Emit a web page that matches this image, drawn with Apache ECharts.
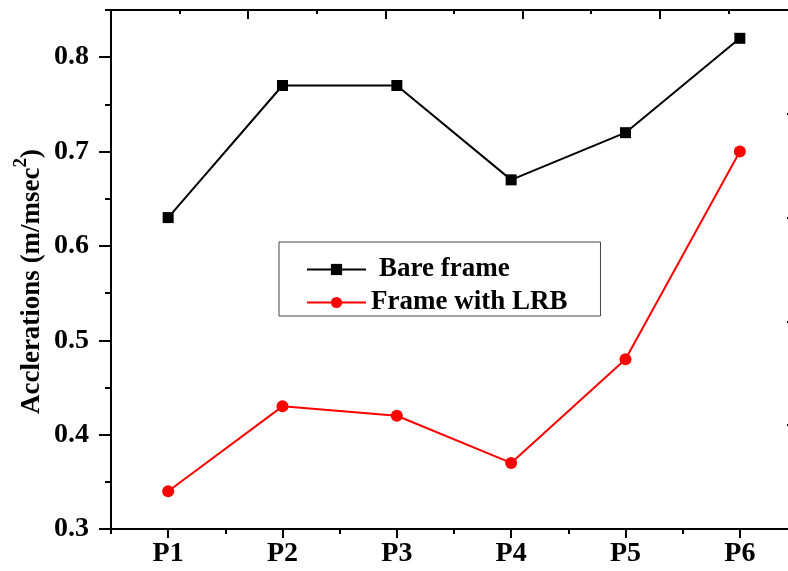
<!DOCTYPE html>
<html>
<head>
<meta charset="utf-8">
<script src="https://cdn.jsdelivr.net/npm/echarts@6/dist/echarts.min.js"></script>
<style>
  html, body { margin: 0; padding: 0; background: #ffffff; }
  #chart { width: 788px; height: 571px; }
</style>
</head>
<body>
<div id="chart"></div>
<script>
// Acceleration per point, bare frame vs. frame with lead rubber bearings
const categories = ['P1', 'P2', 'P3', 'P4', 'P5', 'P6'];
const bareFrame = [0.63, 0.77, 0.77, 0.67, 0.72, 0.82];
const frameWithLRB = [0.34, 0.43, 0.42, 0.37, 0.48, 0.70];
const seriesNames = ['Bare frame', 'Frame with LRB'];
const yTickValues = [0.3, 0.4, 0.5, 0.6, 0.7, 0.8];
const yRange = [0.3, 0.85];

const FONT = "'Liberation Serif', 'Times New Roman', serif";
const AXIS_W = 2;

const chart = echarts.init(document.getElementById('chart'), null, { renderer: 'canvas' });

const hidden = { show: false };

chart.setOption({
  backgroundColor: '#ffffff',
  animation: false,
  // plot frame runs a little past the right edge of the canvas
  grid: { left: 111, top: 10, width: 686, height: 519, containLabel: false, outerBoundsMode: 'none' },
  legend: {
    orient: 'vertical',
    left: 279,
    top: 242,
    backgroundColor: '#ffffff',
    borderColor: '#444444',
    borderWidth: 1,
    borderRadius: 0,
    padding: [14, 33, 0, 27],
    itemWidth: 59,
    itemHeight: 14,
    itemGap: 6,
    textStyle: { fontFamily: FONT, fontWeight: 'bold', fontSize: 27, color: '#000', lineHeight: 26 },
    data: [
      { name: seriesNames[0], textStyle: { padding: [0, 0, 0, 8] } },
      { name: seriesNames[1] }
    ]
  },
  xAxis: [
    {
      // category axis: labels and ticks at each point
      type: 'category',
      data: categories,
      boundaryGap: true,
      position: 'bottom',
      axisLine: { show: true, lineStyle: { color: '#000', width: AXIS_W } },
      axisTick: { show: true, alignWithLabel: true, length: 9, lineStyle: { color: '#000', width: AXIS_W } },
      axisLabel: { margin: 11, fontFamily: FONT, fontWeight: 'bold', fontSize: 28, color: '#000' },
      splitLine: hidden
    },
    {
      // short ticks between categories
      type: 'category',
      data: categories,
      boundaryGap: true,
      position: 'bottom',
      axisLine: hidden,
      axisTick: { show: true, length: 5, lineStyle: { color: '#000', width: AXIS_W } },
      axisLabel: hidden,
      splitLine: hidden
    },
    {
      // top frame edge
      type: 'value',
      position: 'top',
      min: 0, max: 5, interval: 1,
      axisLine: { show: true, onZero: false, lineStyle: { color: '#000', width: AXIS_W } },
      axisTick: { show: true, inside: true, length: 9, lineStyle: { color: '#000', width: AXIS_W } },
      minorTick: { show: true, splitNumber: 2, length: 4, lineStyle: { color: '#000', width: AXIS_W } },
      axisLabel: hidden,
      splitLine: hidden,
      minorSplitLine: hidden
    }
  ],
  yAxis: [
    {
      type: 'value',
      min: yRange[0], max: yRange[1], interval: 0.1,
      position: 'left',
      name: 'Acclerations (m/msec{sup|2})',
      nameLocation: 'middle',
      nameRotate: 90,
      nameGap: 59,
      nameMoveOverlap: false,
      nameTextStyle: {
        fontFamily: FONT, fontWeight: 'bold', fontSize: 27, color: '#000', lineHeight: 40,
        padding: [0, 24, 0, 0],
        rich: {
          sup: { fontFamily: FONT, fontWeight: 'bold', fontSize: 19, color: '#000', verticalAlign: 'top' }
        }
      },
      axisLine: { show: true, onZero: false, lineStyle: { color: '#000', width: AXIS_W } },
      axisTick: { show: true, length: 12, customValues: yTickValues, lineStyle: { color: '#000', width: AXIS_W } },
      axisLabel: {
        margin: 22, customValues: yTickValues,
        fontFamily: FONT, fontWeight: 'bold', fontSize: 28, color: '#000',
        formatter: v => v.toFixed(1)
      },
      splitLine: hidden
    },
    {
      // half-step ticks on the left axis
      type: 'value',
      min: yRange[0], max: yRange[1], interval: 0.05,
      position: 'left',
      axisLine: hidden,
      axisTick: { show: true, length: 6, lineStyle: { color: '#000', width: AXIS_W } },
      axisLabel: hidden,
      splitLine: hidden
    },
    {
      // right frame edge
      type: 'value',
      position: 'right',
      min: 0, max: 5, interval: 1,
      axisLine: { show: true, onZero: false, lineStyle: { color: '#000', width: AXIS_W } },
      axisTick: { show: true, inside: true, length: 10, lineStyle: { color: '#000', width: AXIS_W } },
      axisLabel: hidden,
      splitLine: hidden
    }
  ],
  series: [
    {
      name: seriesNames[0],
      type: 'line',
      xAxisIndex: 0,
      yAxisIndex: 0,
      data: bareFrame,
      symbol: 'rect',
      symbolSize: 11,
      itemStyle: { color: '#000000' },
      lineStyle: { color: '#000000', width: 2 }
    },
    {
      name: seriesNames[1],
      type: 'line',
      xAxisIndex: 0,
      yAxisIndex: 0,
      data: frameWithLRB,
      symbol: 'circle',
      symbolSize: 12,
      itemStyle: { color: '#ff0000' },
      lineStyle: { color: '#ff0000', width: 2 }
    }
  ]
});
</script>
</body>
</html>
